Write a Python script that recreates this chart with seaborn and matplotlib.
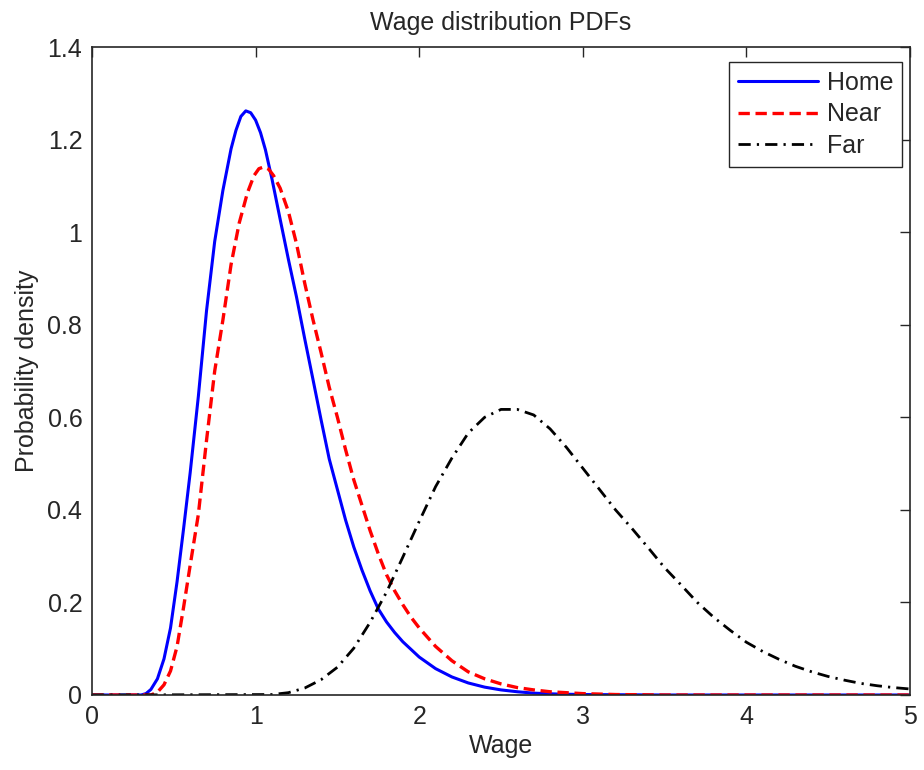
import matplotlib
matplotlib.use("Agg")
import matplotlib.pyplot as plt
import seaborn as sns
import pandas as pd

# ---- data ----
home_x = [0.00, 0.30, 0.33, 0.36, 0.40, 0.44, 0.48, 0.52, 0.56, 0.60, 0.65, 0.70, 0.75, 0.80,
          0.85, 0.88, 0.91, 0.94, 0.97, 1.00, 1.03, 1.06, 1.10, 1.15, 1.20, 1.25, 1.30, 1.35, 1.40, 1.45,
          1.50, 1.55, 1.60, 1.65, 1.70, 1.75, 1.80, 1.85, 1.90, 2.00, 2.10, 2.20, 2.30, 2.40,
          2.50, 2.60, 2.70, 2.85, 3.00, 3.50, 5.00]
home_y = [0.000, 0.000, 0.003, 0.012, 0.035, 0.078, 0.145, 0.245, 0.360, 0.480, 0.645, 0.830, 0.980, 1.090,
          1.180, 1.220, 1.250, 1.262, 1.258, 1.242, 1.215, 1.178, 1.115, 1.028, 0.942, 0.860, 0.770, 0.683, 0.595, 0.510,
          0.444, 0.378, 0.320, 0.270, 0.225, 0.186, 0.158, 0.135, 0.115, 0.082, 0.057, 0.039, 0.026, 0.017,
          0.011, 0.007, 0.004, 0.002, 0.001, 0.000, 0.000]

near_x = [0.00, 0.36, 0.40, 0.44, 0.48, 0.52, 0.56, 0.60, 0.65, 0.70, 0.75, 0.80, 0.85, 0.90,
          0.95, 0.99, 1.02, 1.05, 1.08, 1.11, 1.15, 1.20, 1.25, 1.30, 1.35, 1.40, 1.45, 1.50, 1.55, 1.60,
          1.65, 1.70, 1.75, 1.80, 1.85, 1.90, 1.95, 2.00, 2.10, 2.20, 2.30, 2.40, 2.50, 2.60,
          2.70, 2.80, 2.90, 3.00, 3.20, 3.50, 5.00]
near_y = [0.000, 0.000, 0.006, 0.022, 0.052, 0.105, 0.190, 0.280, 0.390, 0.550, 0.700, 0.810, 0.930, 1.020,
          1.085, 1.122, 1.137, 1.141, 1.136, 1.122, 1.095, 1.045, 0.975, 0.890, 0.812, 0.740, 0.665, 0.600, 0.530, 0.465,
          0.410, 0.355, 0.305, 0.260, 0.225, 0.195, 0.168, 0.145, 0.105, 0.074, 0.050, 0.035, 0.024, 0.016,
          0.011, 0.007, 0.005, 0.003, 0.001, 0.000, 0.000]

far_x = [0.00, 1.10, 1.20, 1.30, 1.40, 1.50, 1.60, 1.70, 1.80, 1.90, 2.00, 2.10, 2.20, 2.30,
         2.40, 2.50, 2.60, 2.70, 2.80, 2.90, 3.00, 3.10, 3.20, 3.30, 3.40, 3.50, 3.60, 3.70,
         3.80, 3.90, 4.00, 4.10, 4.20, 4.30, 4.40, 4.50, 4.60, 4.70, 4.80, 4.90, 5.00]
far_y = [0.000, 0.001, 0.005, 0.015, 0.033, 0.060, 0.101, 0.157, 0.222, 0.298, 0.375, 0.450, 0.512, 0.566,
         0.600, 0.617, 0.617, 0.605, 0.575, 0.535, 0.490, 0.445, 0.400, 0.360, 0.318, 0.275, 0.238, 0.200,
         0.168, 0.140, 0.114, 0.094, 0.077, 0.062, 0.050, 0.040, 0.032, 0.025, 0.020, 0.016, 0.013]

series_names = ["Home", "Near", "Far"]
x_ticks = [0, 1, 2, 3, 4, 5]
y_ticks = [0, 0.2, 0.4, 0.6, 0.8, 1.0, 1.2, 1.4]
y_tick_labels = ["0", "0.2", "0.4", "0.6", "0.8", "1", "1.2", "1.4"]

df = pd.concat([
    pd.DataFrame({"Wage": home_x, "Density": home_y, "Series": "Home"}),
    pd.DataFrame({"Wage": near_x, "Density": near_y, "Series": "Near"}),
    pd.DataFrame({"Wage": far_x, "Density": far_y, "Series": "Far"}),
], ignore_index=True)

sns.set_theme(style="white")
plt.rcParams["font.family"] = ["Liberation Sans", "DejaVu Sans"]

fig = plt.figure(figsize=(9.24, 7.7), dpi=100)
ax = fig.add_axes([92 / 924, 75 / 770, 818 / 924, 648 / 770])

styles = {
    "Home": dict(color="#0000FF", lw=2.2, ls="-"),
    "Near": dict(color="#FF0000", lw=2.4, ls=(0, (3.4, 1.7))),
    "Far": dict(color="#000000", lw=2.0, ls=(0, (4.4, 2.2, 0.8, 2.2))),
}
for name in series_names:
    sub = df[df["Series"] == name]
    st = styles[name]
    sns.lineplot(data=sub, x="Wage", y="Density", ax=ax, color=st["color"],
                 linewidth=st["lw"], linestyle=st["ls"], label=name,
                 estimator=None, sort=False)

FS = 18
ax.set_xlim(0, 5)
ax.set_ylim(0, 1.4)
ax.set_xticks(x_ticks)
ax.set_xticklabels([str(t) for t in x_ticks])
ax.set_yticks(y_ticks)
ax.set_yticklabels(y_tick_labels)
ax.tick_params(direction="in", top=True, right=True, length=7, width=1.0,
               labelsize=FS, colors="#262626", pad=7)
for sp in ax.spines.values():
    sp.set_visible(True)
    sp.set_color("#262626")
    sp.set_linewidth(1.2)

ax.set_xlabel("Wage", fontsize=FS, color="#262626", labelpad=4)
ax.set_ylabel("Probability density", fontsize=FS, color="#262626", labelpad=6)
ax.set_title("Wage distribution PDFs", fontsize=FS, color="#262626", pad=12)

leg = ax.legend(loc="upper right", bbox_to_anchor=(1 - 8 / 818, 1 - 15 / 648),
                borderaxespad=0, fancybox=False, framealpha=1, edgecolor="#262626",
                fontsize=FS, handlelength=3.2, handletextpad=0.35, labelspacing=0.3,
                borderpad=0.35)
leg.get_frame().set_linewidth(1.0)
for t in leg.get_texts():
    t.set_color("#262626")

fig.savefig("out.png", dpi=100, facecolor="white")
